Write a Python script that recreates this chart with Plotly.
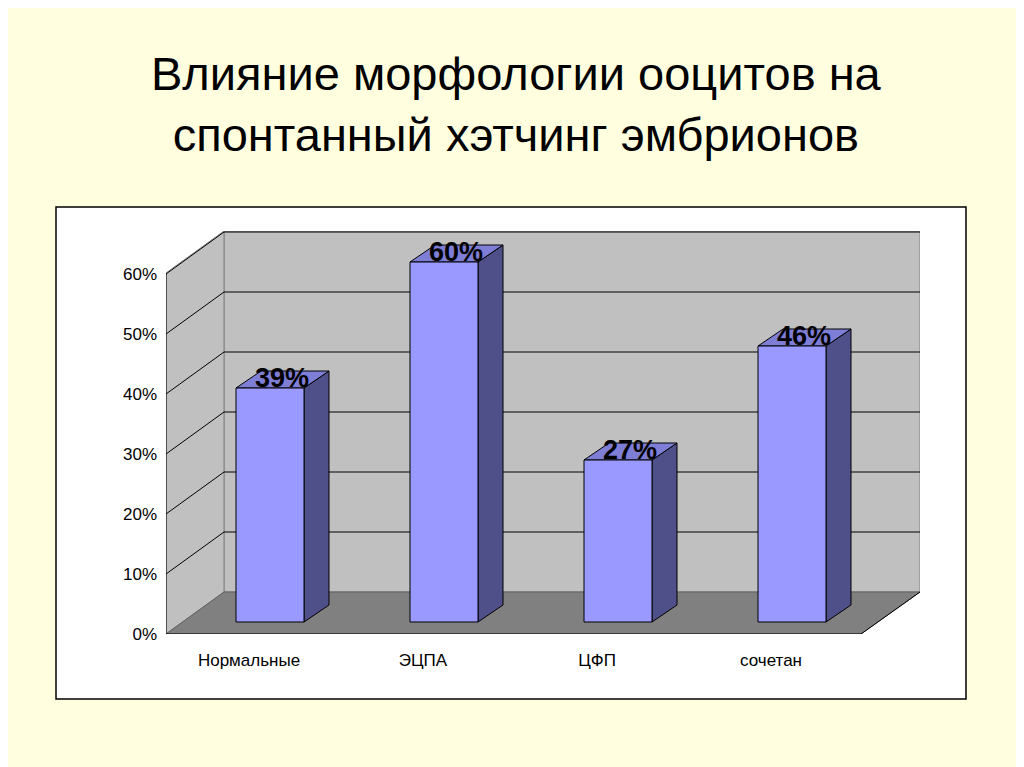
import plotly.graph_objects as go

# data
categories = ["Нормальные", "ЭЦПА", "ЦФП", "сочетан"]
values = [39, 60, 27, 46]
y_ticks = [0, 10, 20, 30, 40, 50, 60]
y_labels = ["0%", "10%", "20%", "30%", "40%", "50%", "60%"]

# geometry (x in pixel-like units, y in percent)
W, H = 1024, 767
L, R, T, B = 158, 912, 223, 626
PX_PER_PCT = 6.0
YMAX = (B - T) / PX_PER_PCT
XMAX = R - L
DX, DY = 58, 42 / PX_PER_PCT          # wall depth
BDX, BDY = 25, 17 / PX_PER_PCT        # bar depth
BASE = 12 / PX_PER_PCT                # bars stand a bit inside the floor
FLOOR_R = 695
STEP = 174
BAR_L0, BAR_W = 70, 68

fig = go.Figure()

def poly(xs, ys, fill, line="#000000", lw=1):
    fig.add_trace(go.Scatter(x=xs + [xs[0]], y=ys + [ys[0]], mode="lines", fill="toself",
                             fillcolor=fill, line=dict(color=line, width=lw),
                             hoverinfo="skip", showlegend=False))

def seg(xs, ys, color="#000000", lw=1):
    fig.add_trace(go.Scatter(x=xs, y=ys, mode="lines", line=dict(color=color, width=lw),
                             hoverinfo="skip", showlegend=False))

# walls
poly([DX, XMAX, XMAX, DX], [DY, DY, YMAX, YMAX], "#C0C0C0", "#808080")
poly([0, DX, DX, 0], [0, DY, YMAX, YMAX - DY], "#C0C0C0", "#808080")
poly([0, DX, XMAX, FLOOR_R], [0, DY, DY, 0], "#808080", "#606060")

# gridlines
for v in y_ticks[1:]:
    seg([0, DX, XMAX], [v, v + DY, v + DY])

# axes
seg([0, 0], [0, YMAX - DY])
seg([0, FLOOR_R, XMAX], [0, 0, DY])
for i in range(len(categories) + 1):
    x = i * STEP
    seg([x, x], [0, -1.2])
for v in y_ticks:
    seg([0, -5], [v, v])

# bars
for i, (c, v) in enumerate(zip(categories, values)):
    x0 = BAR_L0 + STEP * i
    x1 = x0 + BAR_W
    top = BASE + v
    poly([x1, x1 + BDX, x1 + BDX, x1], [BASE, BASE + BDY, top + BDY, top], "#4F4F8A")
    poly([x0, x0 + BDX, x1 + BDX, x1], [top, top + BDY, top + BDY, top], "#7E7ED6")
    poly([x0, x1, x1, x0], [BASE, BASE, top, top], "#9999FF")
    fig.add_annotation(x=(x0 + x1) / 2 + 12, y=top + BDY * 0.6, text=f"<b>{v}%</b>", showarrow=False,
                       font=dict(size=27, color="#000000", family="Liberation Sans"),
                       xanchor="center", yanchor="middle")

fig.update_layout(
    width=W, height=H,
    margin=dict(l=L, r=W - R, t=T, b=H - B),
    paper_bgcolor="#FFFFE0", plot_bgcolor="rgba(0,0,0,0)",
    font=dict(family="Liberation Sans", color="#000000"),
    xaxis=dict(range=[0, XMAX], showgrid=False, zeroline=False, showline=False,
               tickvals=[BAR_L0 + STEP * i + BAR_W / 2 - 21 for i in range(len(categories))],
               ticktext=categories, tickfont=dict(size=17), ticks="", ticklabelstandoff=14),
    yaxis=dict(range=[0, YMAX], showgrid=False, zeroline=False, showline=False,
               tickvals=y_ticks, ticktext=y_labels, tickfont=dict(size=17), ticks="",
               ticklabelstandoff=8),
    shapes=[dict(type="rect", xref="paper", yref="paper", layer="below",
                 x0=(48 - L) / (R - L), x1=(958 - L) / (R - L),
                 y0=(B - 691) / (B - T), y1=(B - 199) / (B - T),
                 fillcolor="#FFFFFF", line=dict(color="#000000", width=1.5))],
    annotations=list(fig.layout.annotations) + [
        dict(xref="paper", yref="paper", x=(508 - L) / (R - L), y=(B - 96) / (B - T),
             text="Влияние морфологии ооцитов на<br>спонтанный хэтчинг эмбрионов",
             showarrow=False, font=dict(size=47, family="Liberation Sans"),
             xanchor="center", yanchor="middle")],
)

fig.write_html("out.html")
